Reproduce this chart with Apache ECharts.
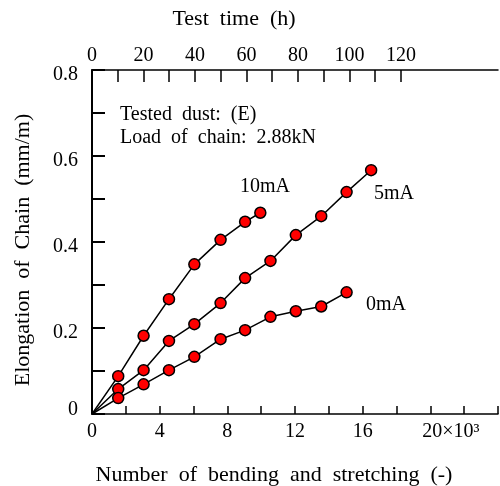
<!DOCTYPE html>
<html>
<head>
<meta charset="utf-8">
<script src="https://cdn.jsdelivr.net/npm/echarts@6/dist/echarts.min.js"></script>
<style>
html, body { margin: 0; padding: 0; background: #fff; }
#main { width: 500px; height: 486px; }
</style>
</head>
<body>
<div id="main"></div>
<script>
// bending cycles (x10^3) and elongation (mm/m)
const x10mA = [0, 1.55, 3.05, 4.55, 6.05, 7.6, 9.05, 9.95];
const y10mA = [0, 0.088, 0.182, 0.267, 0.348, 0.405, 0.447, 0.468];
const x5mA = [0, 1.55, 3.05, 4.55, 6.05, 7.6, 9.05, 10.55, 12.05, 13.55, 15.05, 16.5];
const y5mA = [0, 0.058, 0.102, 0.170, 0.209, 0.258, 0.316, 0.356, 0.416, 0.460, 0.516, 0.567];
const x0mA = [0, 1.55, 3.05, 4.55, 6.05, 7.6, 9.05, 10.55, 12.05, 13.55, 15.05];
const y0mA = [0, 0.037, 0.069, 0.102, 0.133, 0.174, 0.195, 0.226, 0.239, 0.250, 0.283];

// tick labels
const cycleLabels = [0, 4, 8, 12, 16, 20];
const elongLabels = [0, 0.2, 0.4, 0.6, 0.8];
// top axis (test time, h)
const timeTicks = [0, 10, 20, 30, 40, 50, 60, 70, 80, 90, 100, 110, 120];
const timeLabels = [0, 20, 40, 60, 80, 100, 120];

const font = 'Liberation Serif';

function makeSeries(name, xs, ys) {
  return {
    name: name,
    type: 'line',
    xAxisIndex: 0,
    yAxisIndex: 0,
    symbol: 'circle',
    symbolSize: 11,
    showAllSymbol: true,
    // first point is the origin: line only, no marker
    data: xs.map((x, i) => i === 0 ? { value: [x, ys[i]], symbol: 'none' } : [x, ys[i]]),
    lineStyle: { color: '#000', width: 1.5 },
    itemStyle: { color: '#ff0000', borderColor: '#000', borderWidth: 1.5 },
    emphasis: { disabled: true }
  };
}

const chart = echarts.init(document.getElementById('main'), null, { renderer: 'canvas' });

chart.setOption({
  animation: false,
  backgroundColor: '#fff',
  textStyle: { fontFamily: font, color: '#000' },
  grid: { left: 92, right: 2, top: 70, bottom: 72, containLabel: false },
  xAxis: [
    {
      type: 'value',
      position: 'bottom',
      min: 0,
      max: 24,
      interval: 2,
      splitLine: { show: false },
      axisLine: { lineStyle: { color: '#000', width: 1.5 } },
      axisTick: { inside: true, length: 8, lineStyle: { color: '#000', width: 1.5 } },
      axisLabel: {
        customValues: cycleLabels,
        margin: 8,
        fontFamily: font,
        fontSize: 20,
        color: '#000',
        formatter: function (v) {
          if (v === 20) return '{p| }20×10³';
          return String(v);
        },
        rich: { p: { width: 41, fontFamily: font, fontSize: 20 } }
      }
    },
    {
      type: 'value',
      position: 'top',
      min: 0,
      max: 157.7,
      splitLine: { show: false },
      axisLine: { lineStyle: { color: '#000', width: 1.5 } },
      axisTick: { inside: true, length: 12, customValues: timeTicks, lineStyle: { color: '#000', width: 1.5 } },
      axisLabel: { customValues: timeLabels, margin: 4, fontFamily: font, fontSize: 20, color: '#000' }
    }
  ],
  yAxis: {
    type: 'value',
    min: 0,
    max: 0.8,
    interval: 0.1,
    splitLine: { show: false },
    axisLine: { lineStyle: { color: '#000', width: 2 } },
    axisTick: { inside: true, length: 13, lineStyle: { color: '#000', width: 2 } },
    axisLabel: {
      customValues: elongLabels,
      margin: 14,
      fontFamily: font,
      fontSize: 20,
      color: '#000',
      // in the original the labels sit a little below their ticks, except 0
      formatter: v => v === 0 ? '{z|0}' : '{d|' + (+v.toFixed(1)) + '}',
      rich: {
        d: { fontFamily: font, fontSize: 20, color: '#000', padding: [10, 0, 0, 0] },
        z: { fontFamily: font, fontSize: 20, color: '#000', padding: [0, 0, 8, 0] }
      }
    }
  },
  series: [
    makeSeries('10mA', x10mA, y10mA),
    makeSeries('5mA', x5mA, y5mA),
    makeSeries('0mA', x0mA, y0mA)
  ],
  graphic: [
    { type: 'text', style: { text: 'Test  time  (h)', font: '22px "Liberation Serif"', fill: '#000', x: 234, y: 19, align: 'center', verticalAlign: 'middle' } },
    { type: 'text', rotation: Math.PI / 2, x: 23, y: 250, style: { text: 'Elongation  of  Chain  (mm/m)', font: '22px "Liberation Serif"', fill: '#000', align: 'center', verticalAlign: 'middle' } },
    { type: 'text', style: { text: 'Number  of  bending  and  stretching  (-)', font: '22px "Liberation Serif"', fill: '#000', x: 274, y: 475, align: 'center', verticalAlign: 'middle' } },
    { type: 'text', style: { text: 'Tested  dust:  (E)', font: '20px "Liberation Serif"', fill: '#000', x: 120, y: 115, verticalAlign: 'middle' } },
    { type: 'text', style: { text: 'Load  of  chain:  2.88kN', font: '20px "Liberation Serif"', fill: '#000', x: 120, y: 138, verticalAlign: 'middle' } },
    { type: 'text', style: { text: '10mA', font: '20px "Liberation Serif"', fill: '#000', x: 240, y: 187, verticalAlign: 'middle' } },
    { type: 'text', style: { text: '5mA', font: '20px "Liberation Serif"', fill: '#000', x: 374, y: 194, verticalAlign: 'middle' } },
    { type: 'text', style: { text: '0mA', font: '20px "Liberation Serif"', fill: '#000', x: 366, y: 305, verticalAlign: 'middle' } }
  ]
});
</script>
</body>
</html>
